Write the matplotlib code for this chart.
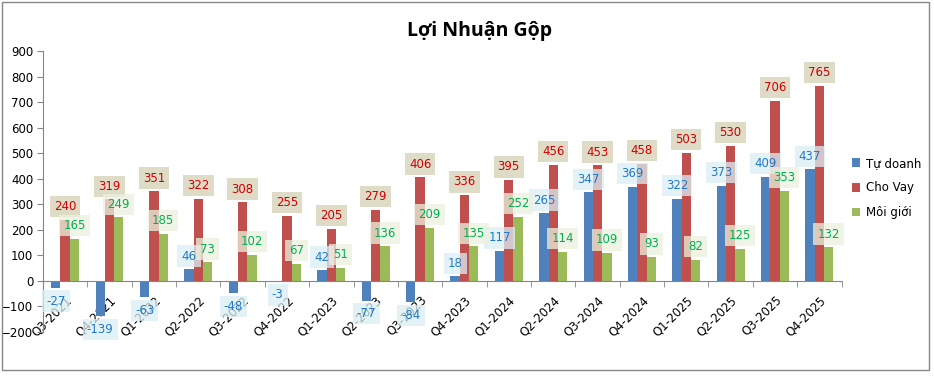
import matplotlib.pyplot as plt
import matplotlib
import numpy as np
from matplotlib.patches import Rectangle

matplotlib.rcParams['font.family'] = ['DejaVu Sans']

quarters = ['Q3-2021', 'Q4-2021', 'Q1-2022', 'Q2-2022', 'Q3-2022', 'Q4-2022',
            'Q1-2023', 'Q2-2023', 'Q3-2023', 'Q4-2023', 'Q1-2024', 'Q2-2024',
            'Q3-2024', 'Q4-2024', 'Q1-2025', 'Q2-2025', 'Q3-2025', 'Q4-2025']
tu_doanh = [-27, -139, -63, 46, -48, -3, 42, -77, -84, 18, 117, 265,
            347, 369, 322, 373, 409, 437]
cho_vay = [240, 319, 351, 322, 308, 255, 205, 279, 406, 336, 395, 456,
           453, 458, 503, 530, 706, 765]
moi_gioi = [165, 249, 185, 73, 102, 67, 51, 136, 209, 135, 252, 114,
            109, 93, 82, 125, 353, 132]

series = [
    ("Tự doanh", tu_doanh, '#4f81bd', '#1f7ac8', '#daeef3'),
    ("Cho Vay", cho_vay, '#c0504d', '#d00000', '#ddd9c3'),
    ("Môi giới", moi_gioi, '#9bbb59', '#00b050', '#ebf1de'),
]

fig = plt.figure(figsize=(9.34, 3.76), dpi=100)
ax = fig.add_axes([0.046, 0.117, 0.855, 0.747])

x = np.arange(len(quarters))
w = 0.21
bars_all = []
for i, (name, vals, col, tcol, bcol) in enumerate(series):
    rects = ax.bar(x + (i - 1) * w, vals, width=w, color=col, label=name, zorder=2)
    bars_all.append((rects, vals, tcol, bcol))

# nhãn dữ liệu
for k, (rects, vals, tcol, bcol) in enumerate(bars_all):
    for rect, v in zip(rects, vals):
        cx = rect.get_x() + rect.get_width() / 2
        off = 9.5 if v >= 0 else -9.5
        alpha = 0.95 if k == 1 else 0.75
        ax.annotate(str(v), (cx, v), xytext=(0, off), textcoords='offset points',
                    ha='center', va='center', fontsize=8.5, color=tcol, zorder=5 + k,
                    bbox=dict(boxstyle='square,pad=0.35', fc=bcol, ec='none', alpha=alpha))

ax.set_ylim(-200, 900)
ax.set_yticks(range(-200, 1000, 100))
ax.set_xlim(-0.5, len(quarters) - 0.5)
ax.tick_params(axis='y', labelsize=8.5, length=4, color='#868686', pad=3)

ax.spines['top'].set_visible(False)
ax.spines['right'].set_visible(False)
ax.spines['left'].set_color('#868686')
ax.spines['bottom'].set_color('#868686')
ax.spines['bottom'].set_position(('data', 0))
ax.spines['bottom'].set_zorder(3)

ax.set_xticks(x)
ax.set_xticklabels(quarters, rotation=45, ha='right', rotation_mode='anchor', fontsize=8.5)
ax.tick_params(axis='x', which='major', length=0, pad=9)
ax.set_xticks(np.arange(-0.5, len(quarters), 1), minor=True)
ax.tick_params(axis='x', which='minor', length=4, color='#868686')

fig.text(0.513, 0.918, "Lợi Nhuận Gộp", ha='center', va='center', fontsize=14,
         fontweight='bold', family=['Open Sans', 'DejaVu Sans'])

ax.legend(loc='center left', bbox_to_anchor=(0.901, 0.5), bbox_transform=fig.transFigure,
          frameon=False, fontsize=8.5, handlelength=0.7, handleheight=0.7,
          handletextpad=0.5, labelspacing=1.0)

fig.patches.append(Rectangle((2 / 934, 6 / 376), 927 / 934, 368 / 376, transform=fig.transFigure,
                             fill=False, ec='#868686', lw=1))

plt.savefig('out.png', dpi=100)
